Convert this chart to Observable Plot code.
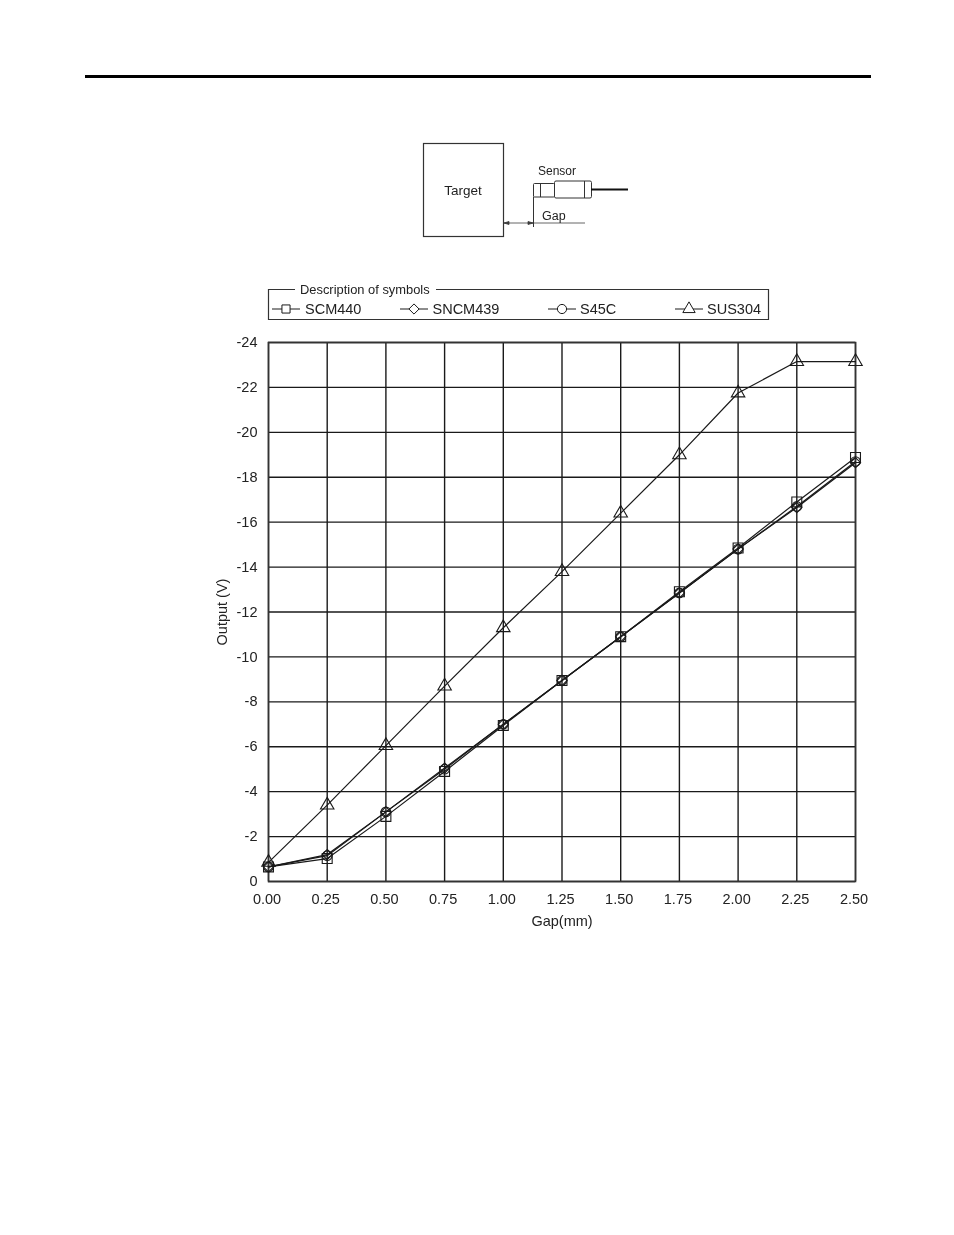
<!DOCTYPE html>
<html>
<head>
<meta charset="utf-8">
<script src="https://cdn.jsdelivr.net/npm/d3@7"></script>
<script src="https://cdn.jsdelivr.net/npm/@observablehq/plot@0.6"></script>
<style>
html,body{margin:0;padding:0;background:#fff;}
#page{position:relative;width:954px;height:1235px;overflow:hidden;font-family:"Liberation Sans",Arial,sans-serif;color:#222;filter:blur(0.35px);background:#fff;}
#page svg{position:absolute;left:0;overflow:visible;background:none;}
#rule{position:absolute;left:85px;top:75px;width:786px;height:3px;background:#000;}
</style>
</head>
<body>
<div id="page"><div id="rule"></div></div>
<script>
const gaps = [0, 0.25, 0.5, 0.75, 1.0, 1.25, 1.5, 1.75, 2.0, 2.25, 2.5];
const yTicks = [0, -2, -4, -6, -8, -10, -12, -14, -16, -18, -20, -22, -24];
const scm440  = [-0.65, -1.02, -2.9, -4.9, -6.95, -8.95, -10.9, -12.9, -14.85, -16.9, -18.88];
const sncm439 = [-0.65, -1.2, -3.1, -5.05, -7.0, -8.95, -10.9, -12.85, -14.8, -16.65, -18.65];
const s45c    = [-0.65, -1.15, -3.1, -5.0, -7.0, -8.95, -10.9, -12.85, -14.8, -16.7, -18.7];
const sus304  = [-0.85, -3.4, -6.05, -8.7, -11.3, -13.8, -16.4, -19.0, -21.75, -23.15, -23.15];
const seriesNames = ["SCM440", "SNCM439", "S45C", "SUS304"];
const seriesValues = [scm440, sncm439, s45c, sus304];
const seriesSymbols = ["square", "diamond2", "circle", "triangle"];
const seriesRadii = [5.6, 4.6, 4.8, 5.0];

const ink = "#1a1a1a";
const font = '"Liberation Sans", Arial, sans-serif';
const page = document.getElementById("page");

const rows = seriesNames.flatMap((name, i) =>
  gaps.map((gap, j) => ({name, gap, output: seriesValues[i][j]})));

const top0 = 320;
const chart = Plot.plot({
  width: 954, height: 620,
  marginTop: 342 - top0, marginBottom: top0 + 620 - 881,
  marginLeft: 268, marginRight: 954 - 855,
  style: {fontFamily: font, fontSize: "14.5px", color: "#222", background: "none"},
  x: {domain: [0, 2.5]},
  y: {domain: [0, -24]},
  marks: [
    Plot.gridX(gaps, {stroke: ink, strokeOpacity: 1, strokeWidth: 1.4}),
    Plot.gridY(yTicks, {stroke: ink, strokeOpacity: 1, strokeWidth: 1.4}),
    Plot.frame({stroke: "#333", strokeWidth: 1.6}),
    Plot.axisX(gaps, {tickSize: 0, tickPadding: 12, tickFormat: d3.format(".2f"), fontSize: 14.5, dx: -1.5,
      label: "Gap(mm)", labelAnchor: "center", labelArrow: "none", labelOffset: 44}),
    Plot.axisY(yTicks, {tickSize: 0, tickPadding: 11, tickFormat: d => String(d), fontSize: 14.5,
      label: "Output (V)", labelAnchor: "center", labelArrow: "none", labelOffset: 52}),
    Plot.line(rows, {x: "gap", y: "output", z: "name", stroke: ink, strokeWidth: 1.2}),
    ...seriesNames.map((name, i) =>
      Plot.dot(rows.filter(d => d.name === name), {x: "gap", y: "output", symbol: () => seriesSymbols[i],
        r: seriesRadii[i], stroke: ink, strokeWidth: 1.1, fill: "none"}))
  ]
});
chart.style.top = top0 + "px";
page.appendChild(chart);

/* legend and sensor sketch share one overlay */
const overlay = d3.select(page).append("svg")
  .attr("width", 954).attr("height", 330).style("top", "0px")
  .attr("font-family", font).attr("fill", "#222");

/* legend */
const legendStarts = [272, 400, 548, 675];
const legendTextX = [305, 432.5, 580, 707];
overlay.append("path").attr("fill", "none").attr("stroke", "#333").attr("stroke-width", 1.2)
  .attr("d", "M295,289.5H268.5V319.5H768.5V289.5H436");
overlay.append("text").attr("x", 300).attr("y", 294).attr("font-size", 12.9).text("Description of symbols");
seriesNames.forEach((name, i) => {
  const x0 = legendStarts[i];
  overlay.append("line").attr("x1", x0).attr("x2", x0 + 28).attr("y1", 309).attr("y2", 309)
    .attr("stroke", ink).attr("stroke-width", 1);
  const sym = {square: d3.symbolSquare, diamond2: d3.symbolDiamond2, circle: d3.symbolCircle, triangle: d3.symbolTriangle}[seriesSymbols[i]];
  overlay.append("path").attr("d", d3.symbol(sym, 66)()).attr("transform", `translate(${x0 + 14},309)`)
    .attr("fill", "#fff").attr("stroke", ink).attr("stroke-width", 1);
  overlay.append("text").attr("x", legendTextX[i]).attr("y", 313.5).attr("font-size", 14.5).text(name);
});

/* sensor sketch */
const sk = overlay.append("g").attr("fill", "none").attr("stroke", "#333");
sk.append("rect").attr("x", 423.5).attr("y", 143.5).attr("width", 80).attr("height", 93).attr("stroke-width", 1.2);
sk.append("path").attr("stroke-width", 1).attr("stroke", "#666").attr("d", "M504,223H585");
sk.append("path").attr("stroke-width", 1).attr("d", "M533.5,197V227");
sk.append("path").attr("stroke-width", .8).attr("fill", "#444").attr("d", "M504,223l5,-1.5v3zM533,223l-5,-1.5v3z");
sk.append("rect").attr("x", 533.5).attr("y", 183.5).attr("width", 21).attr("height", 13.5).attr("rx", 1);
sk.append("path").attr("d", "M540.5,183.5V197M584.5,181V198");
sk.append("rect").attr("x", 554.5).attr("y", 181).attr("width", 37).attr("height", 17).attr("rx", 1.5);
sk.append("path").attr("stroke", "#111").attr("stroke-width", 2).attr("d", "M591,189.5H628");
overlay.append("text").attr("x", 463).attr("y", 194.5).attr("text-anchor", "middle").attr("font-size", 13.5).text("Target");
overlay.append("text").attr("x", 538).attr("y", 175).attr("font-size", 12).text("Sensor");
overlay.append("text").attr("x", 542).attr("y", 220).attr("font-size", 12.5).text("Gap");
</script>
</body>
</html>
